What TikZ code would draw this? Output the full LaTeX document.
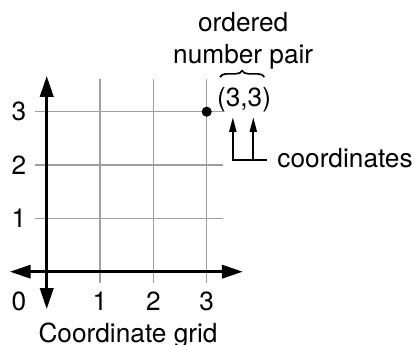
\documentclass[tikz,border=0pt]{standalone}
\usepackage{fontspec}
\setmainfont{TeX Gyre Heros}
\usetikzlibrary{arrows.meta,calc,positioning,decorations.pathreplacing}

\begin{document}
\begin{tikzpicture}[
  font=\fontsize{14pt}{17pt}\selectfont,
  gridln/.style={gray!75,line width=0.6pt},
  axis/.style={line width=1.4pt,{Triangle[length=0.39cm,width=0.25cm]}-{Triangle[length=0.39cm,width=0.25cm]}},
  ptr/.style={line width=1.2pt,-{Triangle[length=0.28cm,width=0.13cm]}},
  lab/.style={inner sep=0pt}]
  \useasboundingbox (-0.876,-1.374) rectangle (6.925,5.095);
  % grid and numbers
  \foreach \k in {1,2,3} {
    \draw[gridln] (-0.22,\k) -- (3.30,\k);
    \draw[gridln] (\k,-0.21) -- (\k,3.61);
    \node[lab] (y\k) at (-0.52,\k) {\k};
    \node[lab] (x\k) at (\k,-0.56) {\k};
  }
  \node[lab] (o) at (-0.52,-0.56) {0};
  % axes
  \coordinate (xl) at (-0.69,0); \coordinate (xr) at (3.675,0);
  \coordinate (yb) at (0,-0.70); \coordinate (yt) at (0,3.67);
  \draw[axis] (xl) -- (xr);
  \draw[axis] (yb) -- (yt);
  \node[circle,fill,inner sep=0pt,minimum size=0.19cm] (pt) at (3,3) {};
  \node[anchor=base,lab] (ttl) at (1.525,-1.337) {Coordinate grid};
  % ordered pair
  \node[anchor=base,lab] (ord) at (3.685,4.50) {ordered};
  \node[anchor=base,lab] (num) at (3.685,3.908) {number pair};
  \node[anchor=base,lab] (pair) at (3.70,3.107) {(3,3)};
  \coordinate (bl) at (3.25,3.65); \coordinate (br) at (4.08,3.65);
  \draw[decorate,decoration={brace,amplitude=0.12cm},line width=0.9pt] (bl) -- (br);
  % coordinates
  \node[anchor=base west,lab] (crd) at (4.32,1.963) {coordinates};
  \coordinate (c1) at (3.49,2.094); \coordinate (c2) at (3.874,2.094);
  \coordinate (t1) at (3.49,2.90); \coordinate (t2) at (3.874,2.90);
  \draw[ptr] ($(crd.west |- c1)+(-0.19,0)$) -| (t1);
  \draw[ptr] (c2) -- (t2);
\end{tikzpicture}
\end{document}
